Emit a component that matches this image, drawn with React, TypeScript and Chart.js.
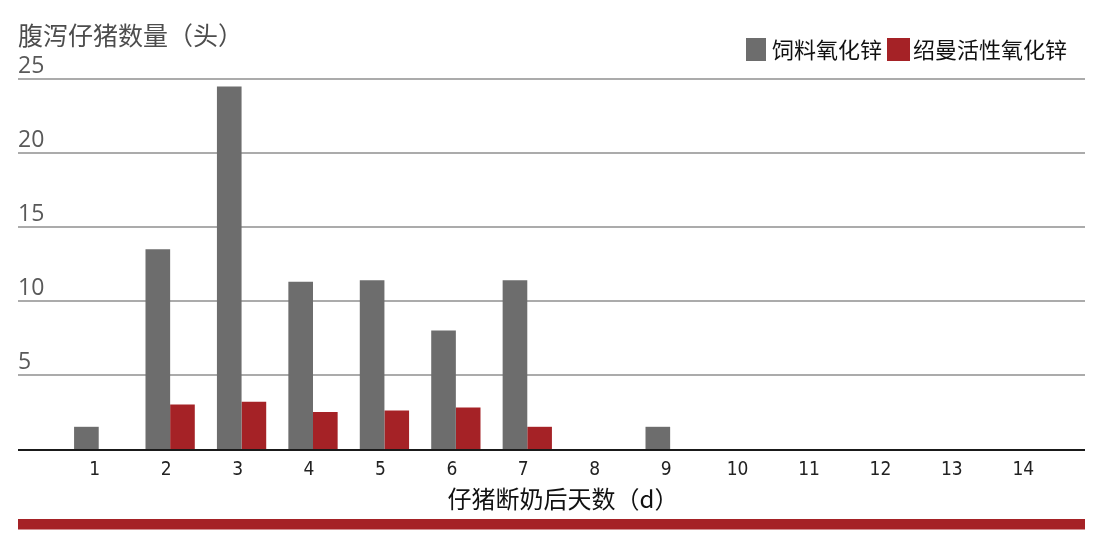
import React, { useEffect, useRef } from 'react';
import { Chart, registerables } from 'chart.js';

Chart.register(...registerables);

// ---- data ----
const days = ['1', '2', '3', '4', '5', '6', '7', '8', '9', '10', '11', '12', '13', '14'];
const feedZincOxide = [1.5, 13.5, 24.5, 11.3, 11.4, 8.0, 11.4, 0, 1.5, 0, 0, 0, 0, 0];
const activeZincOxide = [0, 3.0, 3.2, 2.5, 2.6, 2.8, 1.5, 0, 0, 0, 0, 0, 0, 0];
const seriesNames = ['饲料氧化锌', '绍曼活性氧化锌'];
const yAxisTitle = '腹泻仔猪数量（头）';
const xAxisTitle = '仔猪断奶后天数（d）';
const yMax = 25;
const yStep = 5;

const GRAY = '#6d6d6d';
const RED = '#a52226';
const CJK = '"Noto Sans CJK SC", "Noto Sans", sans-serif';

const LINE_LEFT = 18;
const LINE_RIGHT = 1085;

const decor = {
  id: 'decor',
  beforeDatasetsDraw(chart: any) {
    const ctx = chart.ctx;
    const ys = chart.scales.y;
    ctx.save();
    ctx.strokeStyle = '#ababab';
    ctx.lineWidth = 2;
    ys.ticks.forEach((t: any) => {
      if (t.value === 0) return;
      const py = Math.round(ys.getPixelForValue(t.value));
      ctx.beginPath();
      ctx.moveTo(LINE_LEFT, py);
      ctx.lineTo(LINE_RIGHT, py);
      ctx.stroke();
    });
    ctx.restore();
  },
  afterDatasetsDraw(chart: any) {
    const ctx = chart.ctx;
    const ys = chart.scales.y;
    const py = Math.round(ys.getPixelForValue(0)) + 1;
    ctx.save();
    ctx.strokeStyle = '#1a1a1a';
    ctx.lineWidth = 2;
    ctx.beginPath();
    ctx.moveTo(LINE_LEFT, py);
    ctx.lineTo(LINE_RIGHT, py);
    ctx.stroke();
    ctx.restore();
  },
  afterDraw(chart: any) {
    const ctx = chart.ctx;
    ctx.save();
    // bottom band
    ctx.fillStyle = RED;
    ctx.fillRect(LINE_LEFT, 519, LINE_RIGHT - LINE_LEFT, 10.5);
    // legend
    ctx.font = `22px ${CJK}`;
    ctx.textBaseline = 'middle';
    ctx.textAlign = 'left';
    let x = 746;
    const boxTop = 38;
    const boxH = 23;
    const cy = 50;
    chart.data.datasets.forEach((ds: any, i: number) => {
      const bw = i === 0 ? 20 : 23;
      ctx.fillStyle = ds.backgroundColor;
      ctx.fillRect(x, boxTop, bw, boxH);
      x += bw + (i === 0 ? 6 : 3);
      ctx.fillStyle = '#111';
      ctx.fillText(ds.label, x, cy);
      x += ctx.measureText(ds.label).width + 5;
    });
    ctx.restore();
  },
};

function BarChart() {
  const ref = useRef<HTMLCanvasElement | null>(null);
  useEffect(() => {
    if (!ref.current) return;
    const chart = new Chart(ref.current, {
      type: 'bar',
      data: {
        labels: days,
        datasets: [
          {
            label: seriesNames[0],
            data: feedZincOxide,
            backgroundColor: GRAY,
            borderWidth: 0,
            categoryPercentage: 0.69,
            barPercentage: 1.0,
          },
          {
            label: seriesNames[1],
            data: activeZincOxide,
            backgroundColor: RED,
            borderWidth: 0,
            categoryPercentage: 0.69,
            barPercentage: 1.0,
          },
        ],
      },
      options: {
        responsive: false,
        animation: false,
        devicePixelRatio: 1,
        layout: { padding: { left: 18, right: 32, top: 0, bottom: 22 } },
        plugins: {
          legend: { display: false },
          tooltip: { enabled: false },
          title: {
            display: true,
            text: yAxisTitle,
            align: 'start',
            color: '#4d4d4d',
            font: { family: CJK, size: 25, weight: 'normal' },
            padding: { top: 20, bottom: 29 },
          },
        },
        scales: {
          x: {
            type: 'category',
            grid: { display: false },
            border: { display: false },
            ticks: {
              color: '#222',
              font: { family: '"Liberation Sans Narrow", "DejaVu Sans Condensed", "Liberation Sans", sans-serif', size: 19 },
              padding: 2,
              labelOffset: -4,
              maxRotation: 0,
              autoSkip: false,
            },
            title: {
              display: true,
              text: xAxisTitle,
              color: '#111',
              font: { family: CJK, size: 24 },
              padding: { top: 0, bottom: 6.6 },
            },
            afterFit: (s: any) => {
              s.height = 71;
            },
          },
          y: {
            min: 0,
            max: yMax,
            grid: { display: false },
            border: { display: false },
            ticks: {
              stepSize: yStep,
              crossAlign: 'far',
              padding: 0,
              labelOffset: -13,
              color: '#595959',
              font: { family: '"Open Sans", sans-serif', size: 23 },
              callback: (v: any) => (Number(v) === 0 ? '' : String(v)),
            },
            afterFit: (s: any) => {
              s.width = 45;
            },
          },
        },
      },
      plugins: [decor],
    } as any);
    return () => chart.destroy();
  }, []);
  return <canvas ref={ref} width={1095} height={542} style={{ display: 'block' }} />;
}

export default function App() {
  return (
    <div style={{ position: 'fixed', left: 0, top: 0, width: 1095, height: 542, background: '#fff' }}>
      <BarChart />
    </div>
  );
}
